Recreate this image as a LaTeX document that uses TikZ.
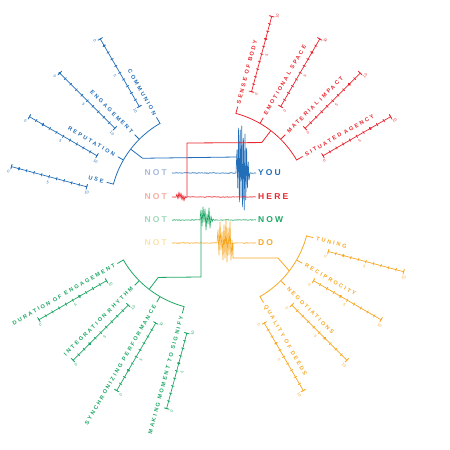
\documentclass[tikz,border=0pt]{standalone}
\usepackage{fontspec}
\setmainfont{Liberation Sans}
\newfontfamily\labfont[LetterSpace=35]{Liberation Sans}
\newfontfamily\wordfont[LetterSpace=25]{Liberation Sans}
\usetikzlibrary{decorations.pathmorphing}
\definecolor{cblue}{RGB}{35,110,185}
\definecolor{cred}{RGB}{232,38,46}
\definecolor{cgreen}{RGB}{30,166,100}
\definecolor{corange}{RGB}{247,168,35}
\definecolor{lblue}{RGB}{168,186,220}
\definecolor{lred}{RGB}{246,172,160}
\definecolor{lgreen}{RGB}{160,216,186}
\definecolor{lorange}{RGB}{252,226,172}
\tikzset{
  lbl/.style={inner sep=0pt,transform shape,font=\labfont\bfseries\fontsize{5.6}{5.6}\selectfont},
  num/.style={inner sep=0pt,transform shape,font=\fontsize{3.8}{3.8}\selectfont},
  scl/.style={line width=0.7pt},
  arcline/.style={line width=0.8pt},
  conn/.style={line width=0.8pt},
  word/.style={inner sep=0pt,font=\wordfont\bfseries\fontsize{8.5}{8.5}\selectfont},
  noisy/.style={line width=0.65pt,decorate,decoration={random steps,segment length=1pt,amplitude=0.35pt}},
  spike/.style={line width=0.65pt,line join=round},
}
% #1 name, #2 text rotation, #3 side (1 right / 0 left), #4 label, #5 dot value
\newcommand\spk[5]{%
\begin{scope}[rotate=#2]
 \ifnum#3>0
   \node[lbl,anchor=west] (#1) at (110,0) {#4};\def\xs{125}%
 \else
   \node[lbl,anchor=east] (#1) at (-110,0) {#4};\def\xs{-203}%
 \fi
 \draw[scl] (\xs,-9.5) -- ({\xs+78},-9.5);
 \foreach \i in {0,...,10} \draw[scl] ({\xs+7.8*\i},-11.1) -- ({\xs+7.8*\i},-7.9);
 \draw[scl] (\xs,-12.3) -- (\xs,-6.7);
 \draw[scl] ({\xs+78},-12.3) -- ({\xs+78},-6.7);
 \fill ({\xs+7.8*#5},-9.5) circle (1.5);
 \node[num] (#1n0) at ({\xs-1.5},-15) {0};
 \node[num] (#1n5) at ({\xs+39},-15) {5};
 \node[num] (#1n10) at ({\xs+79.5},-15) {10};
\end{scope}}
% fan arc: #1 first angle, #2 second, #3 third, #4 last
\newcommand\fan[4]{%
 \draw[arcline] (#1:107) -- (#1:100) arc[start angle=#1,end angle=#4,radius=100] -- (#4:107);
 \draw[arcline] (#2:100) -- (#2:106.5);
 \draw[arcline] (#3:100) -- (#3:106.5);
}
\begin{document}
\begin{tikzpicture}[x=1pt,y=1pt]
\useasboundingbox (-210,-240) rectangle (240,210);
\pgfmathsetseed{7}
% ---------- red group ----------
\begin{scope}[color=cred,text=cred]
 \fan{30}{45}{60}{75}
 \spk{s75}{75}{1}{SENSE OF BODY}{7}
 \spk{s60}{60}{1}{EMOTIONAL SPACE}{8}
 \spk{s45}{45}{1}{MATERIAL IMPACT}{8}
 \spk{s30}{30}{1}{SITUATED AGENCY}{7}
\end{scope}
% ---------- blue group ----------
\begin{scope}[color=cblue,text=cblue]
 \fan{120}{135}{150}{165}
 \spk{s120}{-60}{0}{COMMUNION}{1}
 \spk{s135}{-45}{0}{ENGAGEMENT}{0}
 \spk{s150}{-30}{0}{REPUTATION}{2}
 \spk{s165}{-15}{0}{USE}{1}
\end{scope}
% ---------- green group ----------
\begin{scope}[color=cgreen,text=cgreen]
 \fan{210}{225}{240}{255}
 \spk{s210}{30}{0}{DURATION OF ENGAGEMENT}{6}
 \spk{s225}{45}{0}{INTEGRATION RHYTHM}{3}
 \spk{s240}{60}{0}{SYNCHRONIZING PERFORMANCE}{3}
 \spk{s255}{75}{0}{MAKING MOMENT TO SIGNIFY}{6}
\end{scope}
% ---------- orange group ----------
\begin{scope}[color=corange,text=corange]
 \fan{300}{315}{330}{345}
 \spk{s345}{345}{1}{TUNING}{2}
 \spk{s330}{330}{1}{RECIPROCITY}{4}
 \spk{s315}{315}{1}{NEGOTIATIONS}{6}
 \spk{s300}{300}{1}{QUALITY OF DEEDS}{3}
\end{scope}
% ---------- words ----------
\node[word,text=lblue,anchor=east] (notyou) at (-43,37) {NOT};
\node[word,text=lred,anchor=east] (nothere) at (-43,13) {NOT};
\node[word,text=lgreen,anchor=east] (notnow) at (-43,-10) {NOT};
\node[word,text=lorange,anchor=east] (notdo) at (-43,-33) {NOT};
\node[word,text=cblue,anchor=west] (you) at (48,37) {YOU};
\node[word,text=cred,anchor=west] (here) at (48,13) {HERE};
\node[word,text=cgreen,anchor=west] (now) at (48,-10) {NOW};
\node[word,text=corange,anchor=west] (do) at (48,-33) {DO};
% ---------- coordinates ----------
\coordinate (bA) at (142.5:100); \coordinate (bC) at (142.5:85);
\coordinate (rA) at (52.5:100);  \coordinate (rC) at (52.5:85);
\coordinate (gA) at (232.5:100); \coordinate (gC) at (232.5:85);
\coordinate (oA) at (322.5:100); \coordinate (oC) at (68,-48);
\coordinate (bE) at (27,53);
\coordinate (rE) at (-23,67); \coordinate (rF) at (-23,13);
\coordinate (gE) at (-9,-67); \coordinate (gF) at (-9,-8);
\coordinate (oE) at (23,-48);
% ---------- signal lines ----------
\draw[noisy,cblue] (-38,37) -- (26,37);
\draw[noisy,cblue] (40,37) -- (46,37);
\draw[spike,cblue] (26,37) -- (27,60) -- (27.8,22) -- (28.6,82) -- (29.4,8) -- (30.2,80) -- (31,14) -- (31.8,84) -- (32.6,3) -- (33.4,72) -- (34.2,0) -- (35,76) -- (35.8,10) -- (36.6,62) -- (37.4,22) -- (38.2,48) -- (39,30) -- (40,37);
\draw[noisy,cred] (-38,13) -- (-34,13);
\draw[noisy,cred] (-23,13) -- (46,13);
\draw[spike,cred] (-34,13) -- (-33,16) -- (-32,11) -- (-31,18) -- (-30,12) -- (-29,17) -- (-28,10) -- (-27,15) -- (-26,9) -- (-25,14) -- (-24,12) -- (-23,13);
\draw[noisy,cgreen] (-38,-10) -- (-10,-10);
\draw[noisy,cgreen] (4,-10) -- (46,-10);
\draw[spike,cgreen] (-10,-10) -- (-9,0) -- (-8,-16) -- (-7,3) -- (-6,-12) -- (-5,1) -- (-4,-20) -- (-3,-4) -- (-2,-14) -- (-1,2) -- (0,-18) -- (1,-6) -- (2,-12) -- (3,-9) -- (4,-10);
\draw[noisy,corange] (-38,-33) -- (7,-33);
\draw[noisy,corange] (23,-33) -- (46,-33);
\draw[spike,corange] (7,-33) -- (8,-20) -- (9,-45) -- (10,-12) -- (11,-40) -- (12,-22) -- (13,-50) -- (14,-15) -- (15,-48) -- (16,-10) -- (17,-52) -- (18,-18) -- (19,-45) -- (20,-12) -- (21,-50) -- (22,-30) -- (23,-48) -- (23,-33);
% ---------- connectors ----------
\draw[conn,cblue] (bA) -- (bC) -- (bE);
\draw[conn,cred] (rA) -- (rC) -- (rE) -- (rF);
\draw[conn,cgreen] (gA) -- (gC) -- (gE) -- (gF);
\draw[conn,corange] (oA) -- (oC) -- (oE);
\end{tikzpicture}
\end{document}
